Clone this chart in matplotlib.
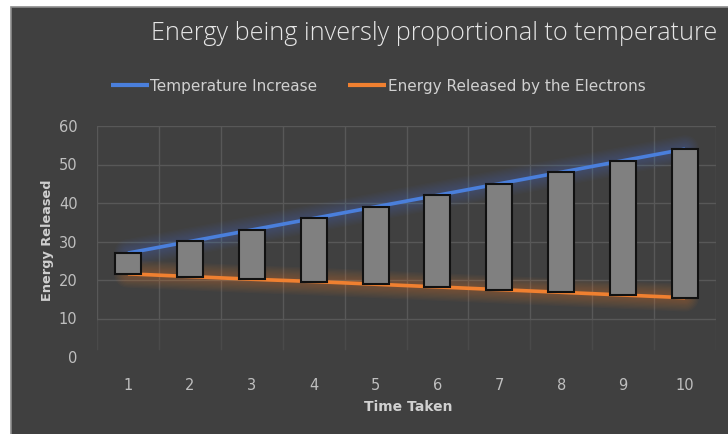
import matplotlib
matplotlib.use("Agg")
import matplotlib.pyplot as plt
from matplotlib.patches import Rectangle
import numpy as np

time_taken = [1, 2, 3, 4, 5, 6, 7, 8, 9, 10]
temperature = [27, 30, 33, 36, 39, 42, 45, 48, 51, 54]
energy = [21.6, 20.9, 20.2, 19.6, 18.9, 18.2, 17.5, 16.8, 16.1, 15.4]
y_ticks = [0, 10, 20, 30, 40, 50, 60]

W, H = 728, 434
fig = plt.figure(figsize=(W / 100, H / 100), dpi=100)
fig.patch.set_facecolor("white")

# chart area background with thin border
bg = Rectangle((11 / W, -0.01), 1.01 - 11 / W, (H - 7) / H + 0.01, transform=fig.transFigure,
               facecolor="#404040", edgecolor="#8c8c8c", linewidth=1.2, zorder=-10)
fig.patches.append(bg)

ax = fig.add_axes([97 / W, (H - 357) / H, 619 / W, 231 / H], zorder=5)
ax.set_facecolor("none")
ax.set_xlim(0.5, 10.5)
ax.set_ylim(0, 60)

grid_c = "#585858"
for y in y_ticks[1:]:
    ax.axhline(y, color=grid_c, lw=1.0, zorder=1)
for xb in np.arange(0.5, 11.0, 1.0):
    ax.plot([xb, xb], [10, 60], color=grid_c, lw=1.0, zorder=1)
    ax.plot([xb, xb], [2, 10], color=grid_c, lw=1.0, alpha=0.45, zorder=1)

blue = "#4a7fdc"
orange = "#f08030"
# soft glow
for lw in np.linspace(20, 4, 10):
    ax.plot(time_taken, temperature, color=blue, lw=lw, alpha=0.03, solid_capstyle="round", zorder=2)
    ax.plot(time_taken, energy, color=orange, lw=lw, alpha=0.035, solid_capstyle="round", zorder=2)
l1, = ax.plot(time_taken, temperature, color=blue, lw=2.6, solid_capstyle="butt", zorder=3,
              label="Temperature Increase")
l2, = ax.plot(time_taken, energy, color=orange, lw=2.6, solid_capstyle="butt", zorder=3,
              label="Energy Released by the Electrons")

# up-down bars
heights = [t - e for t, e in zip(temperature, energy)]
ax.bar(time_taken, heights, bottom=energy, width=0.42, color="#808080",
       edgecolor="#111111", linewidth=1.5, zorder=4)

for s in ax.spines.values():
    s.set_visible(False)
ax.set_xticks(time_taken)
ax.set_xticklabels([str(t) for t in time_taken])
ax.set_yticks(y_ticks)
ax.set_yticklabels([str(v) for v in y_ticks])
ax.tick_params(axis="both", length=0, colors="#bfbfbf", labelsize=10.5)
ax.tick_params(axis="y", pad=14)
ax.tick_params(axis="x", pad=15)

fig.text(47 / W, 1 - 240 / H, "Energy Released", rotation=90, ha="center", va="center",
         color="#d0d0d0", fontsize=9.3, fontweight="bold")
fig.text(408 / W, 1 - 407 / H, "Time Taken", ha="center", va="center",
         color="#d0d0d0", fontsize=10, fontweight="bold")

fig.text(434 / W, 1 - 34 / H, "Energy being inversly proportional to temperature",
         ha="center", va="center", color="#e6e6e6", fontsize=18.2, family="Open Sans",
         fontweight="light")

leg = fig.legend(handles=[l1, l2], loc="center", bbox_to_anchor=(378 / W, 1 - 86 / H),
                 ncol=2, frameon=False, fontsize=11, labelcolor="#d0d0d0",
                 handlelength=2.5, handletextpad=0.1, columnspacing=2.0)
for h in leg.legend_handles:
    h.set_linewidth(3)

fig.savefig("out.png", dpi=100, facecolor=fig.get_facecolor())
